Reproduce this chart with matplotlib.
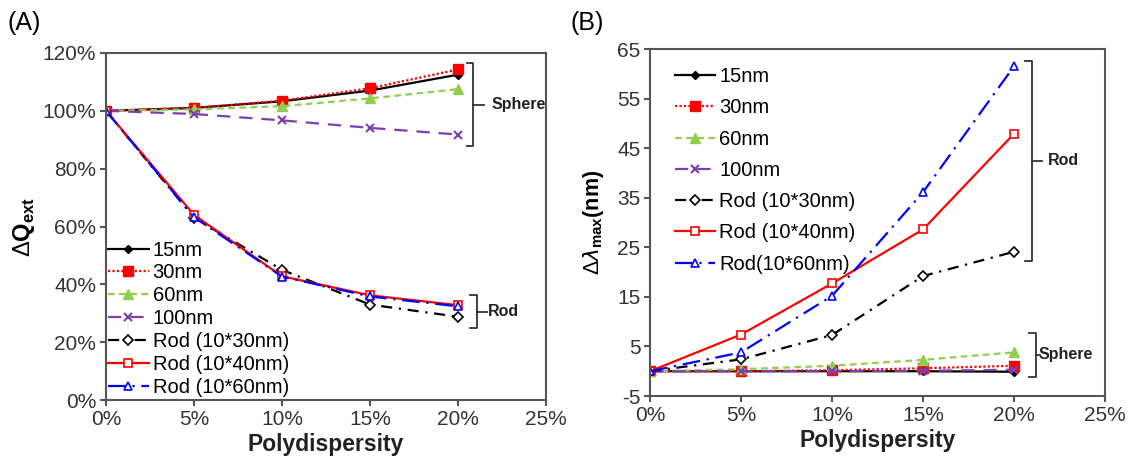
import matplotlib
matplotlib.use("Agg")
import matplotlib.pyplot as plt
from matplotlib.ticker import PercentFormatter, MultipleLocator

plt.rcParams['font.family'] = ['Liberation Sans', 'DejaVu Sans']
plt.rcParams['mathtext.fontset'] = 'custom'
plt.rcParams['mathtext.rm'] = 'Liberation Sans'
plt.rcParams['mathtext.bf'] = 'Liberation Sans:bold'
plt.rcParams['axes.unicode_minus'] = False

# Polydispersity (%)
poly = [0, 5, 10, 15, 20]

labels = ["15nm", "30nm", "60nm", "100nm", "Rod (10*30nm)", "Rod (10*40nm)", "Rod (10*60nm)"]
labels_b = ["15nm", "30nm", "60nm", "100nm", "Rod (10*30nm)", "Rod (10*40nm)", "Rod(10*60nm)"]

# Panel A: change of extinction efficiency (%)
q_15 = [100, 101, 103.3, 107, 112.5]
q_30 = [100, 101, 103.5, 107.8, 114.3]
q_60 = [100, 100.5, 101.6, 104.3, 107.5]
q_100 = [100, 98.9, 96.7, 94.1, 91.8]
q_rod30 = [100, 63, 45, 33, 28.8]
q_rod40 = [100, 64, 42.8, 36.2, 32.8]
q_rod60 = [100, 63.2, 42.7, 35.8, 32.4]

# Panel B: peak shift (nm)
l_15 = [0, 0, 0, 0, -0.1]
l_30 = [0, 0, 0.2, 0.6, 1.1]
l_60 = [0, 0.4, 1.1, 2.3, 3.8]
l_100 = [0, 0, 0, 0.1, 0.3]
l_rod30 = [0, 2.4, 7.3, 19.2, 24.1]
l_rod40 = [0, 7.4, 17.7, 28.6, 47.9]
l_rod60 = [0, 3.8, 15.2, 36.1, 61.5]

b_ticks = [-5, 5, 15, 25, 35, 45, 55, 65]

green = "#8fce4e"
purple = "#7b3fb0"

styles = [
    dict(color="black", ls="-", marker="D", ms=4.5, mfc="black"),
    dict(color="red", ls=(0, (1, 1)), marker="s", ms=7, mfc="red"),
    dict(color=green, ls=(0, (3, 2)), marker="^", ms=7, mfc=green),
    dict(color=purple, ls=(0, (6, 4)), marker="x", ms=6, mew=1.5),
    dict(color="black", ls=(0, (5, 3, 1, 3)), marker="D", ms=5, mfc="white", mew=1.2),
    dict(color="red", ls="-", marker="s", ms=6, mfc="white", mew=1.2),
    dict(color="blue", ls=(0, (8, 3, 1, 3)), marker="^", ms=6, mfc="white", mew=1.2),
]

fig = plt.figure(figsize=(11.34, 4.71), dpi=100)
axA = fig.add_axes([0.0935, 0.1507, 0.388, 0.7368])
axB = fig.add_axes([0.5732, 0.1592, 0.4012, 0.7367])

tickcol = "#333333"
spcol = "#555555"


def style_axes(ax):
    for s in ax.spines.values():
        s.set_color(spcol)
        s.set_linewidth(1.5)
    ax.tick_params(direction="out", length=4, width=1.5, color=spcol,
                   labelsize=15, labelcolor=tickcol, pad=3)
    ax.set_xlim(0, 25)
    ax.xaxis.set_major_locator(MultipleLocator(5))
    ax.xaxis.set_major_formatter(PercentFormatter(decimals=0))
    ax.set_xlabel("Polydispersity", fontsize=16.5, fontweight="bold", color="#222222", labelpad=3)


def bracket(ax, x, y0, y1, nub, text, tx):
    ym = (y0 + y1) / 2
    ax.plot([x - 0.35, x, x, x - 0.35], [y0, y0, y1, y1], color="#333333", lw=1.3,
            clip_on=False)
    ax.plot([x, x + nub], [ym, ym], color="#333333", lw=1.3, clip_on=False)
    ax.text(tx, ym, text, fontsize=11.5, fontweight="bold", color="#222222",
            va="center", ha="left", clip_on=False)


# Panel A
series_a = [q_15, q_30, q_60, q_100, q_rod30, q_rod40, q_rod60]
for vals, lab, st in zip(series_a, labels, styles):
    axA.plot(poly, vals, label=lab, lw=1.6, **st)
style_axes(axA)
axA.set_ylim(0, 120)
axA.yaxis.set_major_locator(MultipleLocator(20))
axA.yaxis.set_major_formatter(PercentFormatter(decimals=0))
axA.set_ylabel(r"$\Delta$Q$_{\mathbf{ext}}$", fontsize=17, fontweight="bold", labelpad=4)
axA.legend(loc="lower left", bbox_to_anchor=(0.005, 0.01), frameon=False, fontsize=14.5,
           handlelength=2.0, handletextpad=0.2, labelspacing=0.19, borderpad=0,
           borderaxespad=0)
bracket(axA, 20.85, 116.5, 87.8, 0.6, "Sphere", 21.9)
bracket(axA, 21.05, 36.3, 24.8, 0.6, "Rod", 21.7)
fig.text(0.007, 0.952, "(A)", fontsize=18, va="center", ha="left")

# Panel B
series_b = [l_15, l_30, l_60, l_100, l_rod30, l_rod40, l_rod60]
for vals, lab, st in zip(series_b, labels_b, styles):
    axB.plot(poly, vals, label=lab, lw=1.6, **st)
style_axes(axB)
axB.set_ylim(-5, 65)
axB.set_yticks(b_ticks)
axB.set_ylabel(r"$\Delta\lambda_{\mathbf{max}}$(nm)", fontsize=15.5, fontweight="bold", labelpad=8)
axB.legend(loc="upper left", bbox_to_anchor=(0.055, 0.948), frameon=False, fontsize=14.5,
           handlelength=2.0, handletextpad=0.2, labelspacing=0.61, borderpad=0,
           borderaxespad=0)
bracket(axB, 20.97, 62.6, 22.3, 0.55, "Rod", 21.85)
bracket(axB, 21.2, 7.7, -1.1, 0.25, "Sphere", 21.35)
fig.text(0.503, 0.952, "(B)", fontsize=18, va="center", ha="left")

fig.savefig("out.png", dpi=100)
